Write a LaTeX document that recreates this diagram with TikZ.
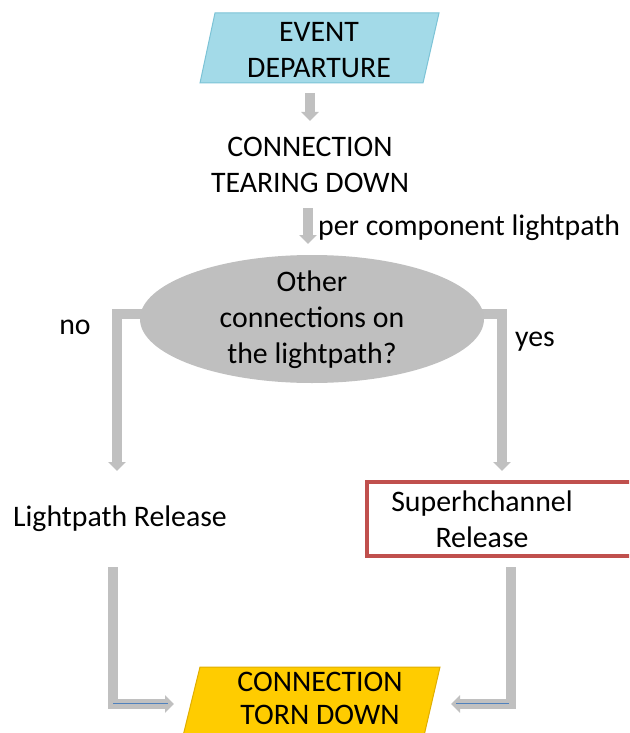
\documentclass[tikz,border=0pt]{standalone}
\usepackage{fontspec}
\setmainfont{Carlito}
\usetikzlibrary{arrows.meta,shapes.geometric,backgrounds}
\definecolor{arrowgray}{HTML}{C0C0C0}
\definecolor{ellgray}{HTML}{BFBFBF}
\definecolor{evblue}{HTML}{A3DAE8}
\definecolor{evblueedge}{HTML}{7CC3D6}
\definecolor{endyellow}{HTML}{FFCC00}
\definecolor{endyellowedge}{HTML}{E0AE00}
\definecolor{boxred}{HTML}{C0504D}
\definecolor{thinblue}{HTML}{4F81BD}
\tikzset{
  txt/.style={font=\fontsize{29.8}{36}\selectfont, align=center, inner sep=0pt},
  bigarrow/.style={draw=arrowgray, line width=10pt, line join=miter,
     -{Triangle[width=17pt,length=9pt]}},
}
\begin{document}
\begin{tikzpicture}[x=1pt,y=-1pt]
\useasboundingbox (0,0) rectangle (629,733);
\clip (0,0) rectangle (629,733);

% top parallelogram
\fill[evblue, draw=evblueedge, line width=1pt] (215,13) -- (439,13) -- (423,83) -- (200,83) -- cycle;
\node[txt] (ev) at (319,50) {EVENT\\DEPARTURE};

\node[txt] (tear) at (310,165) {CONNECTION\\TEARING DOWN};
\coordinate (a1s) at (310,93);
\coordinate (a1e) at (310,121);
\draw[bigarrow] (a1s) -- (a1e);

\coordinate (a2s) at (308,208);
\coordinate (a2e) at (308,244);
\draw[bigarrow] (a2s) -- (a2e);
\node[txt, anchor=west] (per) at (318,228) {per component lightpath};

\node[ellipse, fill=ellgray, minimum width=344pt, minimum height=128pt, inner sep=0pt] (q) at (312,319) {};
\node[txt] (qt) at (312,320) {Other\\connections on\\the lightpath?};

\begin{scope}[on background layer]
\coordinate (lb) at (150,314);
\coordinate (lc) at (117,314);
\coordinate (le) at (117,471);
\draw[bigarrow] (lb) -- (lc) -- (le);
\coordinate (rb) at (470,314);
\coordinate (rc) at (502,314);
\coordinate (re) at (502,471);
\draw[bigarrow] (rb) -- (rc) -- (re);
\end{scope}

\node[txt] (no) at (75,327) {no};
\node[txt] (yes) at (535,342) {yes};

\node[txt] (lr) at (120,519) {Lightpath Release};
\node[draw=boxred, line width=3.5pt, minimum width=273pt, minimum height=74pt, inner sep=0pt] (srbox) at (503.5,519) {};
\node[txt] (sr) at (482,519) {Superhchannel\\Release};

% bottom parallelogram
\fill[endyellow, draw=endyellowedge, line width=1pt] (200,667) -- (440,667) -- (423,740) -- (182,740) -- cycle;
\node[txt, font=\fontsize{29.8}{33}\selectfont] (end) at (320,698) {CONNECTION\\TORN DOWN};

\coordinate (bl1) at (113,567);
\coordinate (bl2) at (113,704);
\coordinate (bl3) at (174,704);
\draw[bigarrow] (bl1) -- (bl2) -- (bl3);
\draw[thinblue, line width=1pt] (bl2) ++(0,-1) -- ++(55,0);
\coordinate (br1) at (511,567);
\coordinate (br2) at (511,704);
\coordinate (br3) at (451,704);
\draw[bigarrow] (br1) -- (br2) -- (br3);
\draw[thinblue, line width=1pt] (br2) ++(-2,-1) -- ++(-53,0);
\end{tikzpicture}
\end{document}
